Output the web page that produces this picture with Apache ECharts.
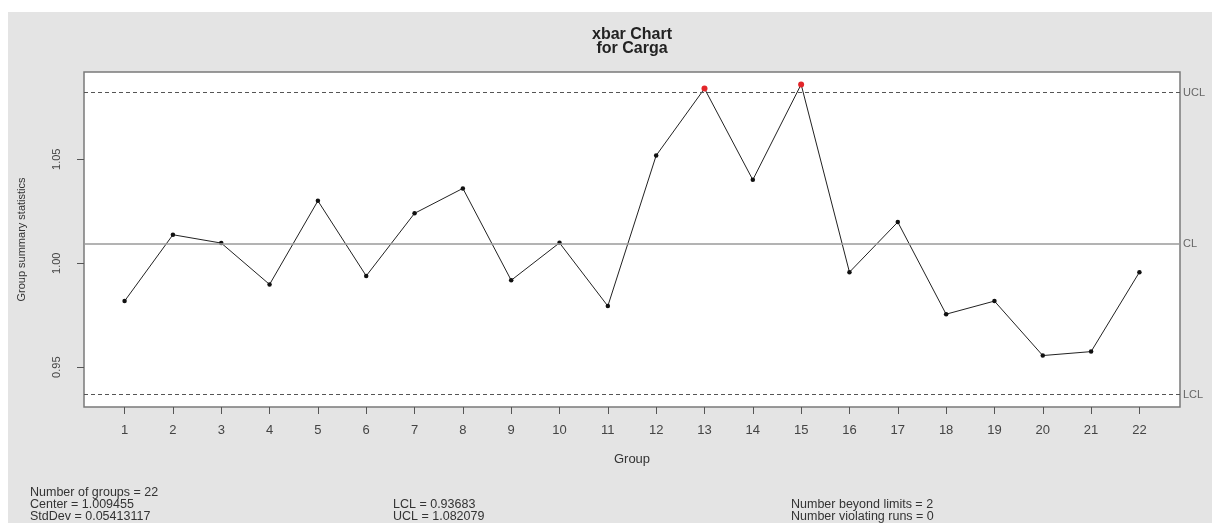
<!DOCTYPE html>
<html>
<head>
<meta charset="utf-8">
<script src="https://cdn.jsdelivr.net/npm/echarts@6/dist/echarts.min.js"></script>
<style>
  html, body { margin: 0; padding: 0; background: #ffffff; }
  #chart { position: absolute; left: 8px; top: 12px; width: 1204px; height: 511px; background: #e4e4e4; }
</style>
</head>
<body>
<div id="chart"></div>
<script>
// ---- data ----
const groups = [1,2,3,4,5,6,7,8,9,10,11,12,13,14,15,16,17,18,19,20,21,22];
const groupMeans = [0.9818, 1.0137, 1.0097, 0.9898, 1.0300, 0.9939, 1.0240, 1.0360, 0.9918, 1.0098, 0.9794,
                    1.0518, 1.0840, 1.0401, 1.0860, 0.9957, 1.0198, 0.9755, 0.9818, 0.9556, 0.9575, 0.9957];
const centerValue = 1.009455;
const stdDevValue = 0.05413117;
const lclValue = 0.93683;
const uclValue = 1.082079;
const yTickValues = [0.95, 1.00, 1.05];
const limitNames = ['UCL', 'CL', 'LCL'];
const violatingRuns = 0;

// ---- derived ----
const beyond = groupMeans.filter(v => v > uclValue || v < lclValue).length;
const yLo = Math.min(lclValue, ...groupMeans), yHi = Math.max(uclValue, ...groupMeans);
const yPad = (yHi - yLo) * 0.04;
const xPad = (groups[groups.length - 1] - groups[0]) * 0.04;

const seriesData = groups.map((g, i) => {
  const v = groupMeans[i];
  const out = v > uclValue || v < lclValue;
  return out ? { value: [g, v], symbolSize: 6, itemStyle: { color: '#e3262a' } } : { value: [g, v] };
});

const chart = echarts.init(document.getElementById('chart'), null, { renderer: 'canvas' });
const F = 'Liberation Sans, Arial, sans-serif';
chart.setOption({
  animation: false,
  backgroundColor: '#e4e4e4',
  grid: { left: 73, top: 60, right: 32, bottom: 116, show: true, backgroundColor: '#ffffff', borderColor: '#7a7a7a', borderWidth: 1.5 },
  xAxis: {
    type: 'value',
    min: groups[0] - xPad, max: groups[groups.length - 1] + xPad,
    name: 'Group', nameLocation: 'middle', nameGap: 46,
    nameTextStyle: { fontFamily: F, fontSize: 13, color: '#333' },
    axisLine: { show: false },
    splitLine: { show: false },
    axisTick: { show: true, inside: false, length: 7, customValues: groups, lineStyle: { color: '#555' } },
    axisLabel: { customValues: groups, margin: 17, fontFamily: F, fontSize: 13, color: '#444' }
  },
  yAxis: {
    type: 'value',
    min: yLo - yPad, max: yHi + yPad,
    name: 'Group summary statistics', nameLocation: 'middle', nameRotate: 90, nameGap: 57,
    nameTextStyle: { fontFamily: F, fontSize: 11, color: '#333' },
    axisLine: { show: false },
    splitLine: { show: false },
    axisTick: { show: true, inside: false, length: 7, customValues: yTickValues, lineStyle: { color: '#555' } },
    axisLabel: { customValues: yTickValues, rotate: 90, margin: 22, fontFamily: F, fontSize: 11, color: '#444',
                 formatter: v => v.toFixed(2) }
  },
  series: [{
    type: 'line',
    data: seriesData,
    symbol: 'circle',
    symbolSize: 4.5,
    itemStyle: { color: '#111' },
    lineStyle: { color: '#222', width: 1 },
    markLine: {
      silent: true,
      symbol: 'none',
      precision: 6,
      label: { position: 'end', distance: 3, fontFamily: F, fontSize: 11, color: '#666', formatter: p => p.name },
      data: [
        { name: limitNames[0], yAxis: uclValue, lineStyle: { type: [4, 3], color: '#555', width: 1 } },
        { name: limitNames[1], yAxis: centerValue, lineStyle: { type: 'solid', color: '#9a9a9a', width: 1.5 } },
        { name: limitNames[2], yAxis: lclValue, lineStyle: { type: [4, 3], color: '#555', width: 1 } }
      ]
    }
  }],
  graphic: [
    { type: 'text', x: 624, y: 16, style: { text: 'xbar Chart\nfor Carga', font: 'bold 16px ' + F, fill: '#222', align: 'center', lineHeight: 14 } },
    { type: 'text', x: 22, y: 475, style: { text: 'Number of groups = ' + groupMeans.length + '\nCenter = ' + centerValue + '\nStdDev = ' + stdDevValue,
      font: '12.5px ' + F, fill: '#333', lineHeight: 12 } },
    { type: 'text', x: 385, y: 487, style: { text: 'LCL = ' + lclValue + '\nUCL = ' + uclValue,
      font: '12.5px ' + F, fill: '#333', lineHeight: 12 } },
    { type: 'text', x: 783, y: 487, style: { text: 'Number beyond limits = ' + beyond + '\nNumber violating runs = ' + violatingRuns,
      font: '12.5px ' + F, fill: '#333', lineHeight: 12 } }
  ]
});
</script>
</body>
</html>
